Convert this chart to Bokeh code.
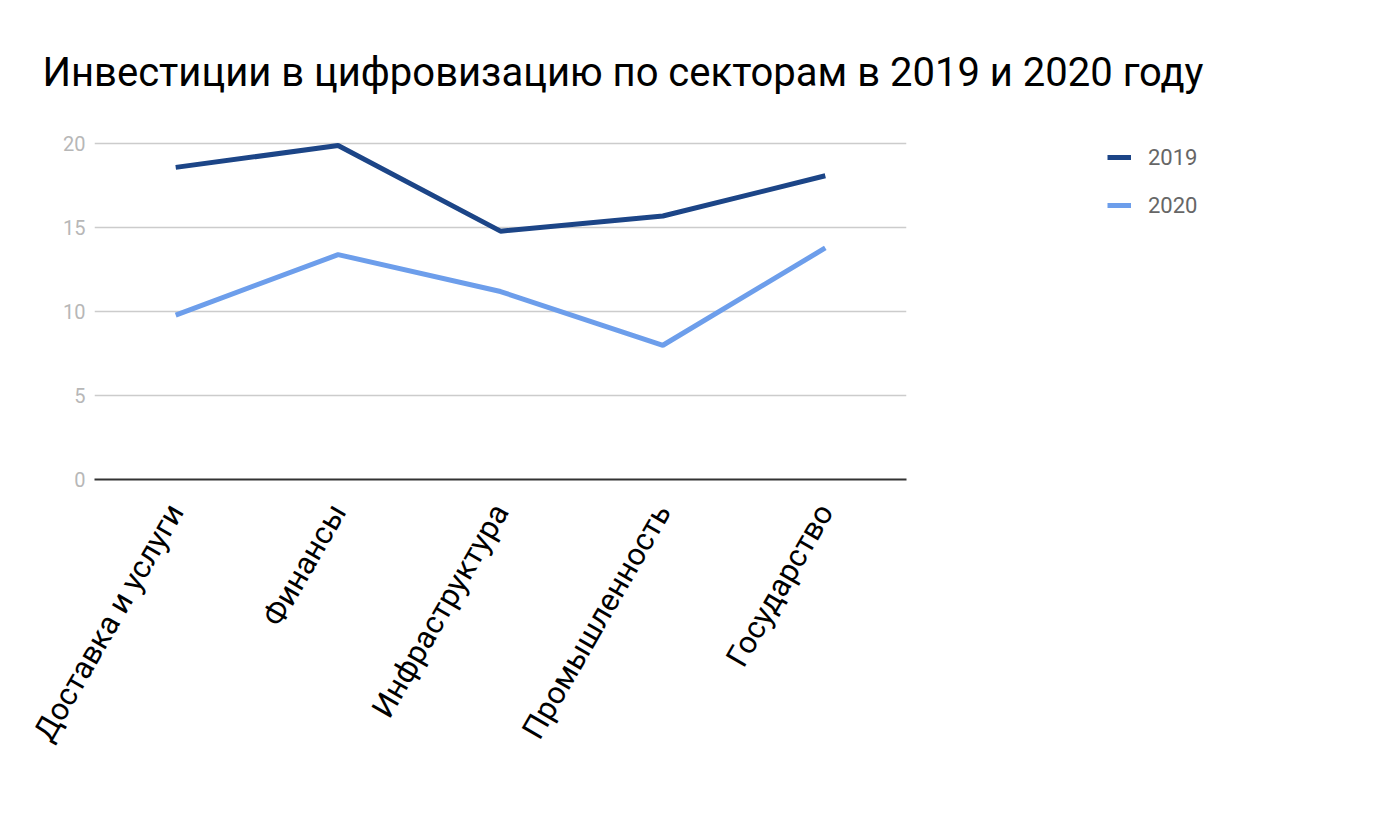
import math
from bokeh.plotting import figure
from bokeh.models import Range1d, FixedTicker, Legend, LegendItem
from bokeh.embed import file_html
from bokeh.resources import INLINE

# data
sectors = ["Доставка и услуги", "Финансы", "Инфраструктура",
           "Промышленность", "Государство"]
values_2019 = [18.6, 19.9, 14.8, 15.7, 18.1]
values_2020 = [9.8, 13.4, 11.2, 8.0, 13.8]
y_ticks = [0, 5, 10, 15, 20]

title_text = "Инвестиции в цифровизацию по секторам в 2019 и 2020 году"

p = figure(x_range=sectors, y_range=Range1d(0, 20.5),
           frame_width=812, frame_height=344,
           min_border_left=94, min_border_right=472,
           min_border_top=135, min_border_bottom=345,
           output_backend="svg", toolbar_location=None)
p.outline_line_color = None
p.background_fill_color = "white"
p.border_fill_color = "white"

r1 = p.line(sectors, values_2019, line_color="#1c4587", line_width=5)
r2 = p.line(sectors, values_2020, line_color="#6d9eeb", line_width=5)

# title
p.title.text = title_text
p.title.text_font = "Roboto"
p.title.text_font_size = "40px"
p.title.text_font_style = "normal"
p.title.text_color = "black"
p.title.align = "left"
p.title.offset = -52
p.title.standoff = 79

# y axis
p.yaxis.ticker = FixedTicker(ticks=y_ticks)
p.yaxis.axis_line_color = None
p.yaxis.major_tick_line_color = None
p.yaxis.minor_tick_line_color = None
p.yaxis.major_label_text_font = "Roboto"
p.yaxis.major_label_text_font_size = "20px"
p.yaxis.major_label_text_color = "#b7b7b7"
p.yaxis.major_label_standoff = 3
p.ygrid.grid_line_color = "#cccccc"
p.ygrid.grid_line_width = 1.5

# x axis
p.xgrid.grid_line_color = None
p.xaxis.axis_line_color = "#333333"
p.xaxis.axis_line_width = 2
p.xaxis.major_tick_line_color = None
p.xaxis.minor_tick_line_color = None
p.xaxis.major_label_orientation = math.pi / 3
p.xaxis.major_label_text_font = "Roboto"
p.xaxis.major_label_text_font_size = "31px"
p.xaxis.major_label_text_color = "black"
p.xaxis.major_label_standoff = 21

legend = Legend(items=[LegendItem(label="2019", renderers=[r1]),
                       LegendItem(label="2020", renderers=[r2])],
                location=(201, 261), orientation="vertical",
                padding=0, margin=0, spacing=22,
                glyph_width=24, glyph_height=26, label_height=26,
                label_standoff=17,
                label_text_font="Roboto", label_text_font_size="22px",
                label_text_color="#666666",
                border_line_color=None, background_fill_alpha=0)
p.add_layout(legend, "right")

open("out.html", "w").write(file_html(p, INLINE))
